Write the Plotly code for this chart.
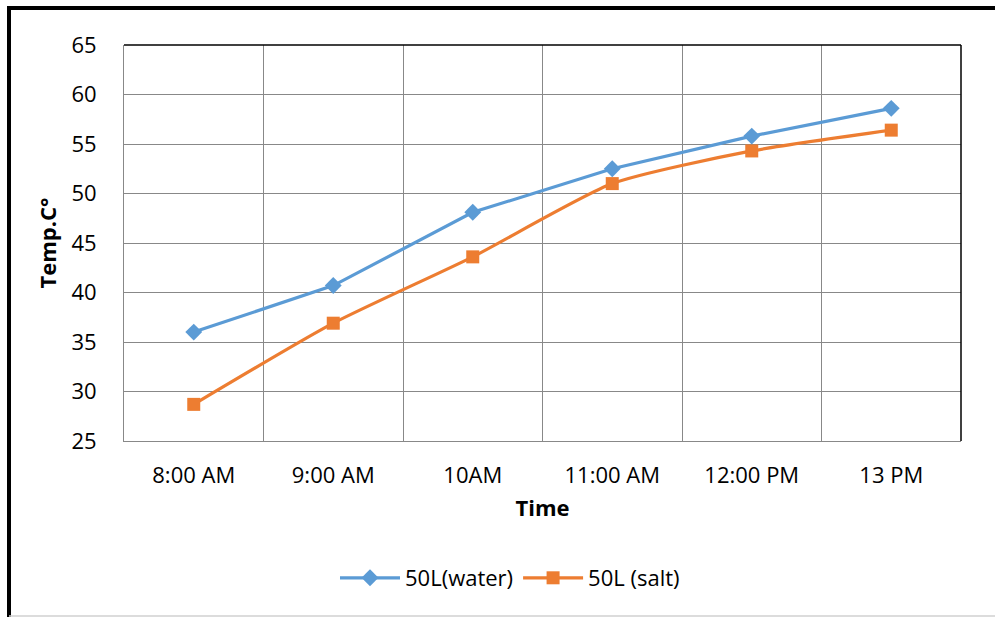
import plotly.graph_objects as go

categories = ["8:00 AM", "9:00 AM", "10AM", "11:00 AM", "12:00 PM", "13 PM"]
water = [36.0, 40.7, 48.1, 52.5, 55.8, 58.6]
salt = [28.7, 36.9, 43.6, 51.0, 54.3, 56.4]

W, H = 995, 617
L, R, T, B = 124, 961, 45, 441

def px(x):
    return (x - L) / (R - L)

def py(y):
    return (B - y) / (B - T)

FONT = "Open Sans"
FS = 22

fig = go.Figure()
fig.add_trace(go.Scatter(
    x=categories, y=water, name="50L(water)", mode="lines+markers",
    line=dict(color="#5B9BD5", width=3.2),
    marker=dict(symbol="diamond", size=13, color="#5B9BD5"),
))
fig.add_trace(go.Scatter(
    x=categories, y=salt, name="50L (salt)", mode="lines+markers",
    line=dict(color="#ED7D31", width=3.2, shape="spline", smoothing=0.6),
    marker=dict(symbol="square", size=13, color="#ED7D31"),
))

fig.update_layout(
    width=W, height=H,
    margin=dict(l=L, r=W - R, t=T, b=H - B),
    paper_bgcolor="white", plot_bgcolor="white",
    font=dict(family=FONT, size=FS, color="black"),
    showlegend=True,
    legend=dict(orientation="h", x=px(510), xanchor="center", y=py(578), yanchor="middle",
                font=dict(size=FS), itemwidth=60, traceorder="normal"),
    xaxis=dict(
        type="category", range=[-0.5, 5.5], tickson="boundaries",
        showgrid=True, gridcolor="#888888", gridwidth=1,
        showline=True, linecolor="#888888", linewidth=1,
        ticks="", tickfont=dict(size=FS), ticklabelstandoff=15,
        title=dict(text="<b>Time</b>", font=dict(size=FS), standoff=12),
    ),
    yaxis=dict(
        range=[25, 65], dtick=5, tick0=25,
        showgrid=True, gridcolor="#888888", gridwidth=1,
        showline=True, linecolor="#888888", linewidth=1,
        ticks="", tickfont=dict(size=FS), ticklabelstandoff=22,
        zeroline=False,
        title=dict(text="<b>Temp.C°</b>", font=dict(size=FS), standoff=8),
    ),
    shapes=[
        dict(type="line", xref="paper", yref="paper", x0=0, x1=1, y0=1, y1=1,
             line=dict(color="black", width=1.5)),
        dict(type="line", xref="paper", yref="paper", x0=1, x1=1, y0=0, y1=1,
             line=dict(color="black", width=1.5)),
        dict(type="line", xref="paper", yref="paper", x0=px(7), x1=px(W + 5), y0=py(8), y1=py(8),
             line=dict(color="black", width=4)),
        dict(type="line", xref="paper", yref="paper", x0=px(9), x1=px(9), y0=py(6), y1=py(H + 5),
             line=dict(color="black", width=4)),
        dict(type="line", xref="paper", yref="paper", x0=px(9), x1=px(W + 5), y0=py(616), y1=py(616),
             line=dict(color="#d0d0d0", width=1.5)),
    ],
)

fig.write_html("out.html")
